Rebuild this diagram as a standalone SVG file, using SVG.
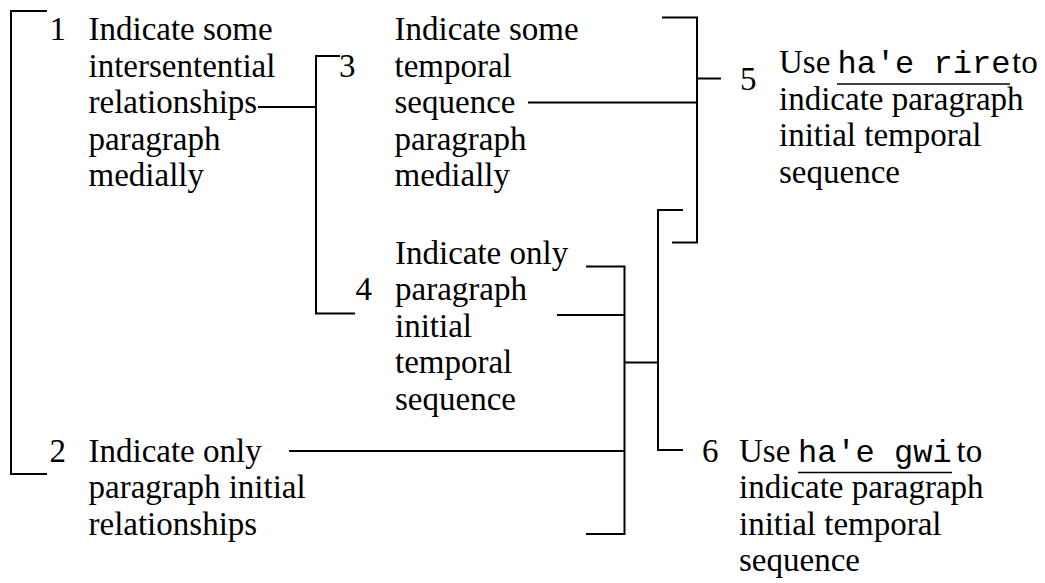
<svg xmlns="http://www.w3.org/2000/svg" width="1045" height="583" viewBox="0 0 1045 583">
<style>
text{font-family:"Liberation Serif","Times New Roman",serif;font-size:33px;fill:#000}
.m{font-family:"Liberation Mono","Courier New",monospace;font-size:32px}
.c{fill:none;stroke:#000;stroke-width:2}
.u{stroke:#000;stroke-width:1.6}
</style>
<rect width="1045" height="583" fill="#fff"/>
<g id="connectors">
<path class="c" d="M47,11 H11 V474 H47"/>
<path class="c" d="M258,107 H316"/>
<path class="c" d="M340,56 H316 V313.5 H355"/>
<path class="c" d="M528,102.5 H697"/>
<path class="c" d="M662,17.5 H697 V242.5 H672"/>
<path class="c" d="M697,78.5 H721"/>
<path class="c" d="M586,266.5 H624.5 V534 H586"/>
<path class="c" d="M557,315 H624.5"/>
<path class="c" d="M289,451 H624.5"/>
<path class="c" d="M624.5,362.5 H658"/>
<path class="c" d="M683,210 H658 V450 H683"/>
</g>
<g id="node1">
<text x="49.5" y="40">1</text>
<text x="88.5" y="40">Indicate some</text>
<text x="88.5" y="76.5">intersentential</text>
<text x="88.5" y="113">relationships</text>
<text x="88.5" y="149.5">paragraph</text>
<text x="88.5" y="186">medially</text>
</g>
<g id="node2">
<text x="49.5" y="461.5">2</text>
<text x="88.5" y="461.5">Indicate only</text>
<text x="88.5" y="498">paragraph initial</text>
<text x="88.5" y="534.5">relationships</text>
</g>
<g id="node3">
<text x="339" y="76.5">3</text>
<text x="394.5" y="40">Indicate some</text>
<text x="394.5" y="76.5">temporal</text>
<text x="394.5" y="113">sequence</text>
<text x="394.5" y="149.5">paragraph</text>
<text x="394.5" y="186">medially</text>
</g>
<g id="node4">
<text x="355.5" y="300">4</text>
<text x="395" y="263.5">Indicate only</text>
<text x="395" y="300">paragraph</text>
<text x="395" y="336.5">initial</text>
<text x="395" y="373">temporal</text>
<text x="395" y="409.5">sequence</text>
</g>
<g id="node5">
<text x="740" y="90">5</text>
<text x="779" y="73">Use</text>
<text class="m" x="837.5" y="73">ha'e rire</text>
<line class="u" x1="837" y1="84" x2="1010" y2="84"/>
<text x="1012" y="73">to</text>
<text x="779" y="109.5">indicate paragraph</text>
<text x="779" y="146">initial temporal</text>
<text x="779" y="182.5">sequence</text>
</g>
<g id="node6">
<text x="702" y="461.5">6</text>
<text x="739" y="461.5">Use</text>
<text class="m" x="798" y="461.5">ha'e gwi</text>
<line class="u" x1="798" y1="472.5" x2="952" y2="472.5"/>
<text x="956.5" y="461.5">to</text>
<text x="739" y="498">indicate paragraph</text>
<text x="739" y="534.5">initial temporal</text>
<text x="739" y="571">sequence</text>
</g>
</svg>
